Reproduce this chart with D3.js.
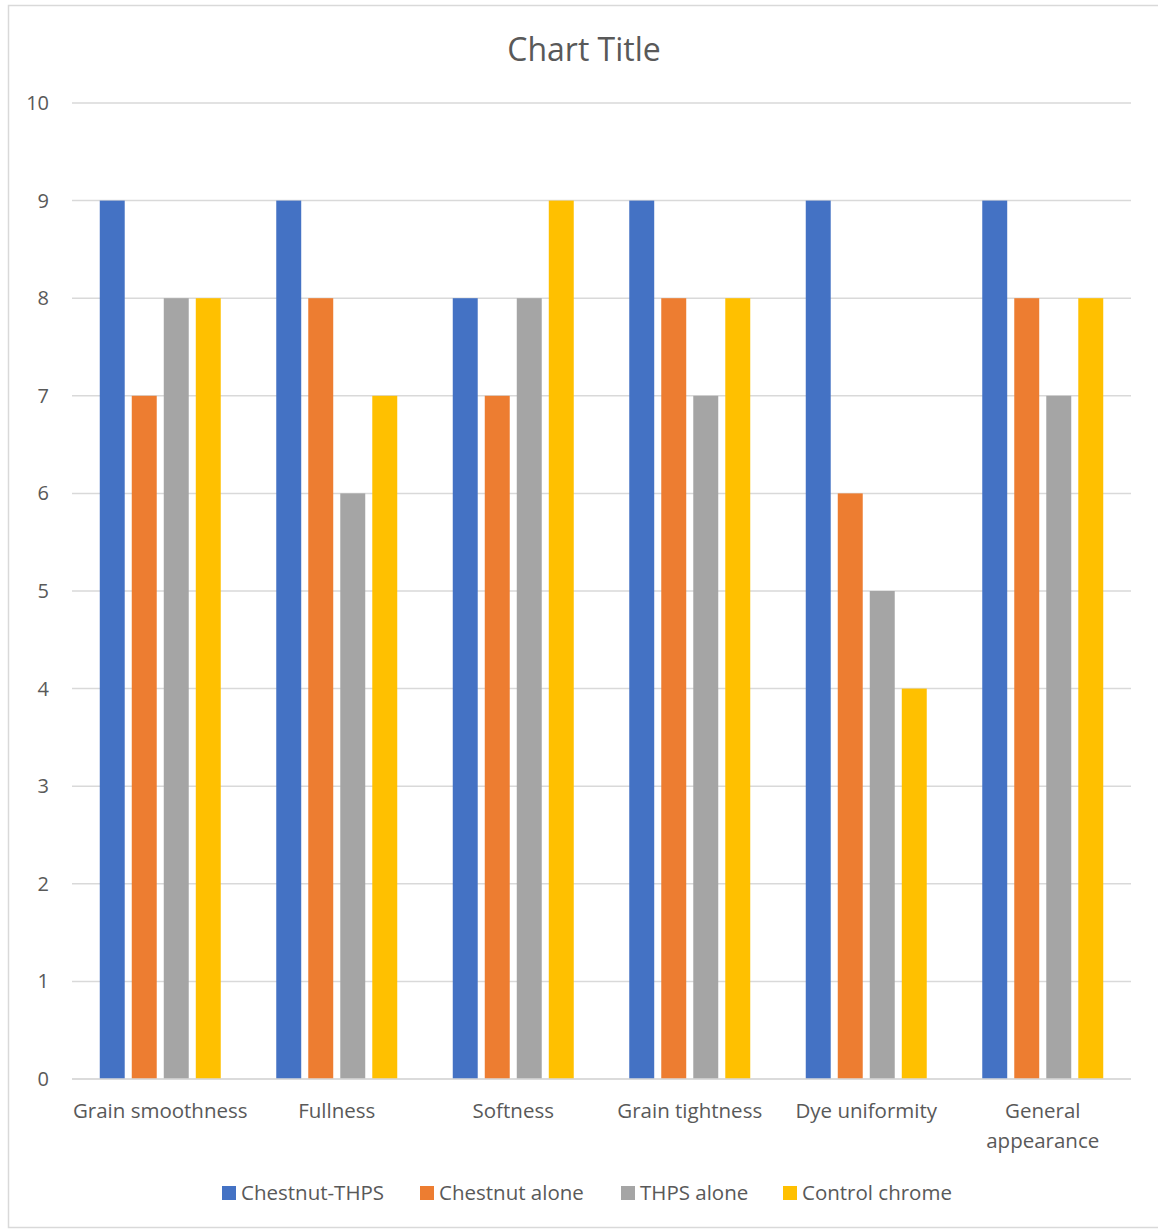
<!DOCTYPE html>
<html>
<head>
<meta charset="utf-8">
<script src="https://cdn.jsdelivr.net/npm/d3@7"></script>
<style>
  body { margin: 0; background: #fff; }
  text { font-family: "Open Sans", sans-serif; fill: #595959; }
</style>
</head>
<body>
<svg id="chart" width="1158" height="1230"></svg>
<script>
var categories = ['Grain smoothness', 'Fullness', 'Softness', 'Grain tightness', 'Dye uniformity', 'General appearance'];
var seriesNames = ['Chestnut-THPS', 'Chestnut alone', 'THPS alone', 'Control chrome'];
var seriesColors = ['#4472c4', '#ed7d31', '#a5a5a5', '#ffc000'];
var chestnutThps = [9, 9, 8, 9, 9, 9];
var chestnutAlone = [7, 8, 7, 8, 6, 8];
var thpsAlone = [8, 6, 8, 7, 5, 7];
var controlChrome = [8, 7, 9, 8, 4, 8];
var yTicks = [0, 1, 2, 3, 4, 5, 6, 7, 8, 9, 10];

var seriesValues = [chestnutThps, chestnutAlone, thpsAlone, controlChrome];

var svg = d3.select('#chart');

// outer frame
svg.append('rect')
    .attr('x', 8.5).attr('y', 5.5)
    .attr('width', 1160).attr('height', 1222)
    .attr('fill', 'none')
    .attr('stroke', '#d9d9d9')
    .attr('stroke-width', 1.5);

svg.append('text')
    .attr('x', 584).attr('y', 61)
    .attr('text-anchor', 'middle')
    .style('font-size', '32px')
    .text('Chart Title');

var plotLeft = 72, plotRight = 1131, plotTop = 103, plotBottom = 1079;

var y = d3.scaleLinear().domain([0, 10]).range([plotBottom, plotTop]);
var x0 = d3.scaleBand().domain(categories).range([plotLeft, plotRight]).padding(0);
var x1 = d3.scaleBand().domain(seriesNames).range([0, x0.bandwidth()])
    .paddingInner(0.22).paddingOuter(0.867);

// gridlines
svg.append('g')
  .selectAll('line')
  .data(yTicks)
  .enter()
  .append('line')
    .attr('x1', plotLeft).attr('x2', plotRight)
    .attr('y1', function(d) { return y(d); })
    .attr('y2', function(d) { return y(d); })
    .attr('stroke', '#d9d9d9')
    .attr('stroke-width', 1.5);

// y labels
svg.append('g')
  .selectAll('text')
  .data(yTicks)
  .enter()
  .append('text')
    .attr('x', 49)
    .attr('y', function(d) { return y(d) + 7; })
    .attr('text-anchor', 'end')
    .style('font-size', '20px')
    .text(function(d) { return d; });

// bars
var rows = [];
categories.forEach(function(c, i) {
  seriesNames.forEach(function(s, j) {
    rows.push({ cat: c, series: s, value: seriesValues[j][i], color: seriesColors[j] });
  });
});

svg.append('g')
  .selectAll('rect')
  .data(rows)
  .enter()
  .append('rect')
    .attr('x', function(d) { return x0(d.cat) + x1(d.series); })
    .attr('y', function(d) { return y(d.value); })
    .attr('width', x1.bandwidth())
    .attr('height', function(d) { return y(0) - y(d.value); })
    .attr('fill', function(d) { return d.color; });

// baseline over bars
svg.append('line')
    .attr('x1', plotLeft).attr('x2', plotRight)
    .attr('y1', y(0)).attr('y2', y(0))
    .attr('stroke', '#d9d9d9')
    .attr('stroke-width', 1.5);

// category labels
var catLabels = svg.append('g')
  .selectAll('text')
  .data(categories)
  .enter()
  .append('text')
    .attr('x', function(d) { return x0(d) + x0.bandwidth() / 2; })
    .attr('y', 1118)
    .attr('text-anchor', 'middle')
    .style('font-size', '20.5px');

catLabels.each(function(d) {
  var el = d3.select(this);
  if (d === 'General appearance') {
    el.append('tspan').attr('x', el.attr('x')).attr('dy', 0).text('General');
    el.append('tspan').attr('x', el.attr('x')).attr('dy', 30).text('appearance');
  } else {
    el.text(d);
  }
});

// legend
var legendX = [222, 420, 621, 783];
var legend = svg.append('g')
  .selectAll('g')
  .data(seriesNames)
  .enter()
  .append('g')
    .attr('transform', function(d, i) { return 'translate(' + legendX[i] + ',1186)'; });

legend.append('rect')
    .attr('width', 14).attr('height', 14)
    .attr('fill', function(d, i) { return seriesColors[i]; });

legend.append('text')
    .attr('x', 19).attr('y', 14)
    .style('font-size', '20.5px')
    .text(function(d) { return d; });
</script>
</body>
</html>
